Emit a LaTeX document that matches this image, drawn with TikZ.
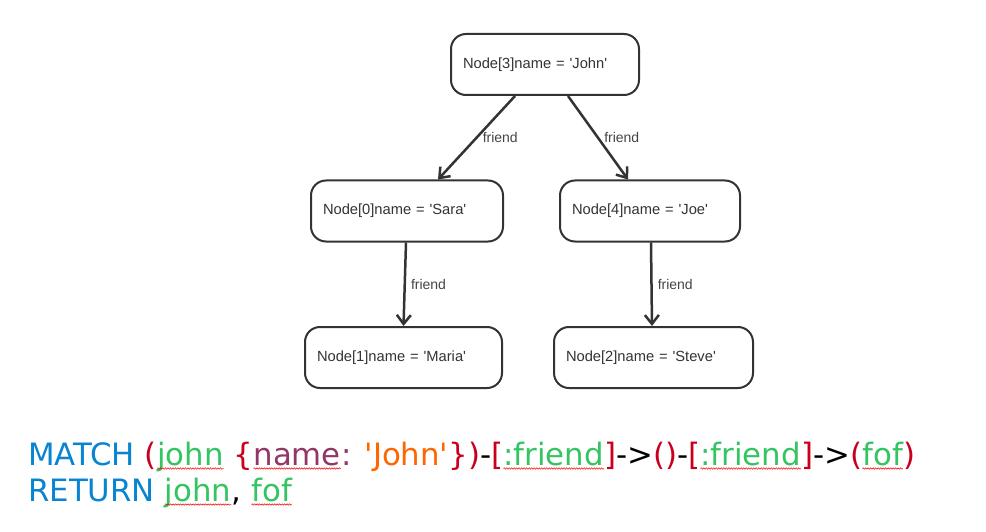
\documentclass[tikz,border=0pt]{standalone}
\usepackage{fontspec}
\usepackage{xcolor}
\usepackage{tikz}
\usetikzlibrary{arrows.meta}
\usetikzlibrary{decorations.pathmorphing}
\newfontfamily\boxfont{Liberation Sans}
\newfontfamily\codefont{DejaVu Sans}
\definecolor{boxgray}{HTML}{333333}
\definecolor{labelgray}{HTML}{444444}
\definecolor{kw}{RGB}{8,132,208}
\definecolor{pr}{RGB}{200,0,30}
\definecolor{var}{RGB}{52,196,98}
\definecolor{prop}{RGB}{146,54,104}
\definecolor{str}{RGB}{255,102,0}
\tikzset{
	entity/.style={draw=boxgray,line width=2pt,rounded corners=15pt,fill=white,
		minimum height=61pt,inner xsep=12pt,align=left,text=boxgray,
		font=\boxfont\fontsize{14.7}{17}\selectfont},
	link/.style={draw=boxgray,line width=2.5pt,-{Straight Barb[length=9pt,width=14pt]}},
	lbl/.style={midway,right=4pt,inner sep=1pt,text=labelgray,
		font=\boxfont\fontsize{14}{16}\selectfont},
	code/.style={anchor=base west,inner sep=0pt,font=\codefont\fontsize{30.8}{36}\selectfont},
	wavy/.style={draw=red,line width=0.5pt,decorate,
		decoration={snake,amplitude=0.7pt,segment length=2.5pt}}
}
\newcommand{\squig}[1]{\tikz[baseline=(w.base)]{\node[inner sep=0pt,outer sep=0pt] (w) {#1};
	\draw[wavy] ([yshift=-3.5pt]w.base west)--([yshift=-3.5pt]w.base east);}}
\newcommand{\q}{\textquotesingle}

\begin{document}
\begin{tikzpicture}[x=1pt,y=-1pt]
	\useasboundingbox (0,0) rectangle (986,532);
	% the graph
	\node[entity,text width=164pt] (john) at (545,64.5) {Node[3]name = \q John\q};
	\node[entity,text width=168pt] (sara) at (407,211) {Node[0]name = \q Sara\q};
	\node[entity,text width=156pt] (joe) at (650,211) {Node[4]name = \q Joe\q};
	\node[entity,text width=173pt] (maria) at (403.5,357.5) {Node[1]name = \q Maria\q};
	\node[entity,text width=175pt] (steve) at (653.5,357.5) {Node[2]name = \q Steve\q};
	\draw[link] ([xshift=-30pt]john.south) -- node[lbl] {friend} ([xshift=31pt]sara.north);
	\draw[link] ([xshift=23pt]john.south) -- node[lbl] {friend} ([xshift=-22pt]joe.north);
	\draw[link] ([xshift=-1pt]sara.south) -- node[lbl] {friend} (maria.north);
	\draw[link] ([xshift=1pt]joe.south) -- node[lbl] {friend} ([xshift=-1.5pt]steve.north);
	% the query
	\node[code] (match) at (28,465) {\textcolor{kw}{MATCH} \textcolor{pr}{(}\squig{\textcolor{var}{john}} \textcolor{pr}{\{}\squig{\textcolor{prop}{name}}\textcolor{prop}{:} \textcolor{str}{\q John\q}\textcolor{pr}{\})}-\textcolor{pr}{[}\squig{\textcolor{var}{:friend}}\textcolor{pr}{]}->\textcolor{pr}{()}-\textcolor{pr}{[}\squig{\textcolor{var}{:friend}}\textcolor{pr}{]}->\textcolor{pr}{(}\squig{\textcolor{var}{fof}}\textcolor{pr}{)}};
	\node[code] (return) at (28,501) {\textcolor{kw}{RETURN} \squig{\textcolor{var}{john}}, \squig{\textcolor{var}{fof}}};
\end{tikzpicture}
\end{document}
